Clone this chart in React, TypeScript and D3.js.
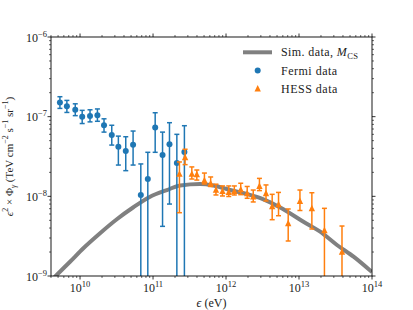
import { useEffect, useRef } from 'react';
import * as d3 from 'd3';

// Fermi points (eV, TeV cm^-2 s^-1 sr^-1), low = 0 means the bar runs off the log axis
const fermiEnergy = [5.3e9, 6.6e9, 8.6e9, 1.07e10, 1.37e10, 1.73e10, 2.13e10, 2.72e10, 3.35e10, 4.23e10, 5.33e10, 6.8e10, 8.48e10, 1.07e11, 1.35e11, 1.68e11, 2.12e11, 2.69e11];
const fermiFlux = [1.51e-7, 1.35e-7, 1.22e-7, 1.0e-7, 1.02e-7, 1.04e-7, 7.8e-8, 5.9e-8, 4.2e-8, 3.7e-8, 4.45e-8, 1.04e-8, 1.65e-8, 7.3e-8, 3.3e-8, 4.5e-8, 2.62e-8, 3.6e-8];
const fermiHigh = [1.78e-7, 1.6e-7, 1.45e-7, 1.2e-7, 1.22e-7, 1.25e-7, 9.4e-8, 7.8e-8, 5.7e-8, 5.6e-8, 6.6e-8, 2.55e-8, 3.57e-8, 1.12e-7, 6.4e-8, 8.4e-8, 6.0e-8, 7.7e-8];
const fermiLow = [1.27e-7, 1.13e-7, 1.03e-7, 8.2e-8, 8.6e-8, 8.75e-8, 6.4e-8, 4.4e-8, 2.47e-8, 2.1e-8, 2.47e-8, 0, 0, 3.57e-8, 4.2e-9, 8.0e-9, 0, 0];

// HESS points
const hessEnergy = [2.3e11, 2.75e11, 3.4e11, 3.98e11, 5.06e11, 6.16e11, 7.28e11, 8.94e11, 1.09e12, 1.3e12, 1.59e12, 1.95e12, 2.36e12, 2.87e12, 3.53e12, 4.29e12, 5.24e12, 7.11e12, 1.03e13, 1.5e13, 2.23e13, 3.88e13];
const hessFlux = [1.93e-8, 3.12e-8, 1.93e-8, 1.91e-8, 1.6e-8, 1.47e-8, 1.22e-8, 1.17e-8, 1.14e-8, 1.17e-8, 1.23e-8, 1.1e-8, 1.0e-8, 1.36e-8, 1.1e-8, 7.56e-9, 8.0e-9, 4.63e-9, 8.8e-9, 7.14e-9, 3.78e-9, 2.02e-9];
const hessHigh = [2.7e-8, 3.9e-8, 2.34e-8, 2.14e-8, 1.96e-8, 1.75e-8, 1.42e-8, 1.35e-8, 1.35e-8, 1.35e-8, 1.46e-8, 1.33e-8, 1.2e-8, 1.68e-8, 1.39e-8, 1.06e-8, 1.12e-8, 6.94e-9, 1.2e-8, 1.11e-8, 7.07e-9, 4.24e-9];
const hessLow = [6.23e-9, 2.5e-8, 1.65e-8, 1.6e-8, 1.43e-8, 1.33e-8, 1.04e-8, 1.01e-8, 9.95e-9, 1.04e-8, 1.05e-8, 9.45e-9, 8.5e-9, 1.18e-8, 8.74e-9, 5.09e-9, 5.71e-9, 2.75e-9, 6.64e-9, 3.89e-9, 0, 0];

// simulated spectrum, M_CS
const simEnergy = [4.0e9, 4.79e9, 7.29e9, 1.11e10, 1.88e10, 3.19e10, 5.38e10, 9.12e10, 1.55e11, 2.35e11, 4.42e11, 6.73e11, 1.14e12, 1.93e12, 3.26e12, 5.53e12, 1.15e13, 1.95e13, 3.31e13, 5.59e13, 1.0e14];
const simFlux = [8.7e-10, 1.03e-9, 1.51e-9, 2.23e-9, 3.44e-9, 5.15e-9, 7.29e-9, 9.9e-9, 1.2e-8, 1.37e-8, 1.43e-8, 1.37e-8, 1.2e-8, 1.07e-8, 9.18e-9, 7.24e-9, 4.8e-9, 3.6e-9, 2.45e-9, 1.75e-9, 1.12e-9];

const xTickExponents = [10, 11, 12, 13, 14];
const yTickExponents = [-9, -8, -7, -6];

const WIDTH = 413;
const HEIGHT = 310;
const FONT = "'Liberation Serif', 'Times New Roman', 'DejaVu Serif', serif";
const BLUE = '#1f77b4';
const ORANGE = '#ff7f0e';
const GRAY = '#808080';

const fmtExp = (n: number) => (n < 0 ? `\u2212${-n}` : `${n}`);

export default function App() {
  const svgRef = useRef<SVGSVGElement>(null);

  useEffect(() => {
    if (!svgRef.current) return;
    const svg = d3.select(svgRef.current);
    svg.selectAll('*').remove();

    const margin = { top: 37, right: 41, bottom: 34, left: 51 };
    const x0 = margin.left;
    const x1 = WIDTH - margin.right;
    const y0 = margin.top;
    const y1 = HEIGHT - margin.bottom;

    const x = d3.scaleLog().domain([4e9, 1e14]).range([x0, x1]);
    const y = d3.scaleLog().domain([1e-9, 1e-6]).range([y1, y0]);

    svg.append('rect').attr('width', WIDTH).attr('height', HEIGHT).attr('fill', '#fff');

    svg.append('defs').append('clipPath').attr('id', 'plotClip')
      .append('rect')
      .attr('x', x0).attr('y', y0)
      .attr('width', x1 - x0).attr('height', y1 - y0);

    const plot = svg.append('g').attr('clip-path', 'url(#plotClip)');

    // Simulation curve
    const simPoints = simEnergy.map((e, i) => [e, simFlux[i]] as [number, number]);
    const line = d3.line<[number, number]>()
      .x(d => x(d[0]))
      .y(d => y(d[1]))
      .curve(d3.curveMonotoneX);
    plot.append('path')
      .datum(simPoints)
      .attr('d', line)
      .attr('fill', 'none')
      .attr('stroke', GRAY)
      .attr('stroke-width', 4);

    const yPos = (v: number) => (v > 0 ? y(v) : y1 + 30);
    const cap = 2.5;

    const drawErrors = (energy: number[], low: number[], high: number[], color: string) => {
      const g = plot.append('g').attr('stroke', color).attr('stroke-width', 1.5).attr('fill', 'none');
      energy.forEach((e, i) => {
        const cx = x(e);
        const top = yPos(high[i]);
        const bot = yPos(low[i]);
        g.append('line').attr('x1', cx).attr('x2', cx).attr('y1', top).attr('y2', bot);
        g.append('line').attr('x1', cx - cap).attr('x2', cx + cap).attr('y1', top).attr('y2', top);
        g.append('line').attr('x1', cx - cap).attr('x2', cx + cap).attr('y1', bot).attr('y2', bot);
      });
    };

    const triangle = 'M0,-3.2L3.2,3.2L-3.2,3.2Z';

    drawErrors(fermiEnergy, fermiLow, fermiHigh, BLUE);
    plot.append('g').selectAll('circle')
      .data(fermiEnergy)
      .join('circle')
      .attr('cx', d => x(d))
      .attr('cy', (_, i) => y(fermiFlux[i]))
      .attr('r', 3)
      .attr('fill', BLUE);

    drawErrors(hessEnergy, hessLow, hessHigh, ORANGE);
    plot.append('g').selectAll('path')
      .data(hessEnergy)
      .join('path')
      .attr('d', triangle)
      .attr('transform', (d, i) => `translate(${x(d)},${y(hessFlux[i])})`)
      .attr('fill', ORANGE);

    // Spines
    svg.append('rect')
      .attr('x', x0).attr('y', y0)
      .attr('width', x1 - x0).attr('height', y1 - y0)
      .attr('fill', 'none')
      .attr('stroke', '#000')
      .attr('stroke-width', 0.9);

    // Ticks (outward on all four sides)
    const ticks = svg.append('g').attr('stroke', '#000');
    const xMinor: number[] = [];
    for (let p = 9; p <= 13; p++) {
      for (let k = 2; k <= 9; k++) {
        const v = k * Math.pow(10, p);
        if (v >= 4e9 && v <= 1e14) xMinor.push(v);
      }
    }
    const yMinor: number[] = [];
    for (let p = -9; p <= -7; p++) {
      for (let k = 2; k <= 9; k++) yMinor.push(k * Math.pow(10, p));
    }

    const xTick = (v: number, len: number, w: number) => {
      const px = x(v);
      ticks.append('line').attr('x1', px).attr('x2', px).attr('y1', y1).attr('y2', y1 + len).attr('stroke-width', w);
      ticks.append('line').attr('x1', px).attr('x2', px).attr('y1', y0).attr('y2', y0 - len).attr('stroke-width', w);
    };
    const yTick = (v: number, len: number, w: number) => {
      const py = y(v);
      ticks.append('line').attr('x1', x0).attr('x2', x0 - len).attr('y1', py).attr('y2', py).attr('stroke-width', w);
      ticks.append('line').attr('x1', x1).attr('x2', x1 + len).attr('y1', py).attr('y2', py).attr('stroke-width', w);
    };
    xMinor.forEach(v => xTick(v, 2, 0.6));
    xTickExponents.forEach(p => xTick(Math.pow(10, p), 3.5, 0.8));
    yMinor.forEach(v => yTick(v, 2, 0.6));
    yTickExponents.forEach(p => yTick(Math.pow(10, p), 3.5, 0.8));

    // Tick labels
    const labels = svg.append('g').attr('font-family', FONT).attr('fill', '#222');
    xTickExponents.forEach(p => {
      const t = labels.append('text')
        .attr('x', x(Math.pow(10, p)))
        .attr('y', y1 + 15.5)
        .attr('text-anchor', 'middle')
        .attr('font-size', 12);
      t.append('tspan').text('10');
      t.append('tspan').attr('dy', -5).attr('font-size', 8.5).text(fmtExp(p));
    });
    yTickExponents.forEach(p => {
      const t = labels.append('text')
        .attr('x', 47)
        .attr('y', y(Math.pow(10, p)) + 4.5)
        .attr('text-anchor', 'end')
        .attr('font-size', 12);
      t.append('tspan').text('10');
      t.append('tspan').attr('dy', -5).attr('font-size', 8.5).text(fmtExp(p));
    });

    // Axis labels
    const xl = labels.append('text')
      .attr('x', (x0 + x1) / 2)
      .attr('y', 306.5)
      .attr('text-anchor', 'middle')
      .attr('font-size', 12);
    xl.append('tspan').attr('font-style', 'italic').text('\u03f5');
    xl.append('tspan').text(' (eV)');

    const yl = labels.append('text')
      .attr('transform', `translate(12.5,${(y0 + y1) / 2}) rotate(-90)`)
      .attr('text-anchor', 'middle')
      .attr('font-size', 11);
    const sup = (s: string) => {
      yl.append('tspan').attr('dy', -4.5).attr('font-size', 8).text(s);
    };
    const back = (s: string, dy: number, italic = false) => {
      const ts = yl.append('tspan').attr('dy', dy).text(s);
      if (italic) ts.attr('font-style', 'italic');
    };
    back('\u03f5', 0, true);
    sup('2');
    back(' \u00d7 \u03a6', 4.5);
    yl.append('tspan').attr('dy', 3).attr('font-size', 8).attr('font-style', 'italic').text('\u03b3');
    back(' (TeV cm', -3);
    sup('\u22122');
    back(' s', 4.5);
    sup('\u22121');
    back(' sr', 4.5);
    sup('\u22121');
    back(')', 4.5);

    // Legend
    const legend = svg.append('g').attr('font-family', FONT).attr('font-size', 12).attr('fill', '#222');
    legend.append('line')
      .attr('x1', 243).attr('x2', 272).attr('y1', 52.3).attr('y2', 52.3)
      .attr('stroke', GRAY).attr('stroke-width', 4);
    const l1 = legend.append('text').attr('x', 281).attr('y', 56.3).attr('letter-spacing', 0.4);
    l1.append('tspan').text('Sim. data, ');
    l1.append('tspan').attr('font-style', 'italic').text('M');
    l1.append('tspan').attr('dy', 2.5).attr('font-size', 8.5).text('CS');

    legend.append('circle').attr('cx', 257.7).attr('cy', 70.5).attr('r', 3).attr('fill', BLUE);
    legend.append('text').attr('x', 281).attr('y', 75).attr('letter-spacing', 0.5).text('Fermi data');

    legend.append('path').attr('d', triangle).attr('transform', 'translate(257.7,88.3)').attr('fill', ORANGE);
    legend.append('text').attr('x', 281).attr('y', 92.7).attr('letter-spacing', 0.5).text('HESS data');
  }, []);

  return (
    <svg
      ref={svgRef}
      width={WIDTH}
      height={HEIGHT}
      style={{ position: 'absolute', left: 0, top: 0, display: 'block' }}
    />
  );
}
